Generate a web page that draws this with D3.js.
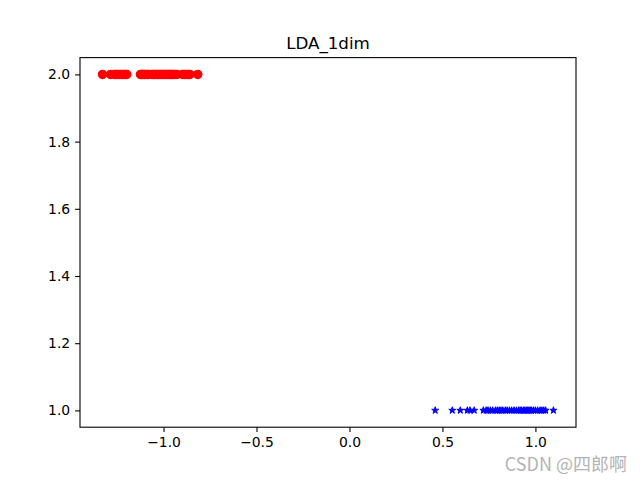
<!DOCTYPE html>
<html><head><meta charset="utf-8">
<script src="https://cdn.jsdelivr.net/npm/d3@7"></script>
<style>body{margin:0;background:#fff}svg{display:block}</style>
</head><body>
<svg id="c" width="640" height="480"></svg>
<script>
const title = "LDA_1dim";
const class2X = [-1.328,-1.285,-1.262,-1.255,-1.246,-1.236,-1.226,-1.216,-1.206,-1.198,
  -1.124,-1.118,-1.112,-1.104,-1.096,-1.088,-1.080,-1.062,-1.055,-1.048,-1.040,-1.032,-1.025,-1.018,
  -1.010,-1.002,-0.995,-0.988,-0.980,-0.972,-0.965,-0.958,-0.950,-0.940,-0.928,-0.897,-0.888,-0.878,-0.866,-0.858,-0.816];
const class2Y = 2.0;
const class1X = [0.461,0.553,0.596,0.634,0.648,0.671,0.720,0.735,0.745,0.758,0.770,0.785,0.795,0.805,0.815,0.825,
  0.838,0.848,0.860,0.872,0.885,0.898,0.910,0.918,0.925,0.935,0.942,0.950,0.958,0.965,0.972,0.980,0.990,1.000,
  1.012,1.025,1.035,1.045,1.055,1.097];
const class1Y = 1.0;
const xTicks = [-1.0,-0.5,0.0,0.5,1.0];
const yTicks = [1.0,1.2,1.4,1.6,1.8,2.0];
const watermark = "CSDN @四郎啊";

const svg = d3.select("#c");
const L=80,R=576,T=57.6,B=427.2;
const allX = class2X.concat(class1X);
const [xmn,xmx] = d3.extent(allX);
const xm=(xmx-xmn)*0.05;
const x = d3.scaleLinear().domain([xmn-xm,xmx+xm]).range([L,R]);
const ym=(class2Y-class1Y)*0.05;
const y = d3.scaleLinear().domain([class1Y-ym,class2Y+ym]).range([B,T]);
const fmt = v => d3.format(".1f")(v).replace("-","\u2212");
const font = "DejaVu Sans, sans-serif";

const gx = svg.append("g").attr("transform",`translate(0,${B})`)
  .call(d3.axisBottom(x).tickValues(xTicks).tickFormat(fmt).tickSizeOuter(0).tickSize(4.9).tickPadding(4.9));
const gy = svg.append("g").attr("transform",`translate(${L},0)`)
  .call(d3.axisLeft(y).tickValues(yTicks).tickFormat(fmt).tickSizeOuter(0).tickSize(4.9).tickPadding(4.9));
[gx,gy].forEach(g=>{
  g.select(".domain").remove();
  g.selectAll(".tick line").attr("stroke","#000").attr("stroke-width",1.1);
  g.selectAll(".tick text").attr("font-family",font).attr("font-size","13.9px").attr("fill","#000");
});

svg.append("g").selectAll("circle").data(class2X).join("circle")
  .attr("cx",d=>x(d)).attr("cy",y(class2Y)).attr("r",4.17)
  .attr("fill","#ff0000").attr("stroke","#ff0000").attr("stroke-width",1.2);

const star = d3.symbol().type(d3.symbolStar).size(15);
svg.append("g").selectAll("path").data(class1X).join("path")
  .attr("d",star).attr("transform",d=>`translate(${x(d)},${y(class1Y)})`)
  .attr("fill","#0000ff").attr("stroke","#0000ff").attr("stroke-width",1).attr("stroke-linejoin","miter");

svg.append("rect").attr("x",L).attr("y",T).attr("width",R-L).attr("height",B-T)
  .attr("fill","none").attr("stroke","#000").attr("stroke-width",1.1);

svg.append("text").attr("x",(L+R)/2).attr("y",T-8.3).attr("text-anchor","middle")
  .attr("font-family",font).attr("font-size","16.7px").attr("fill","#000").text(title);

svg.append("text").attr("x",627).attr("y",471).attr("text-anchor","end")
  .attr("font-family","Noto Sans CJK SC, sans-serif").attr("font-size","18px")
  .attr("fill","#b4b4b4").text(watermark);
</script>
</body></html>
